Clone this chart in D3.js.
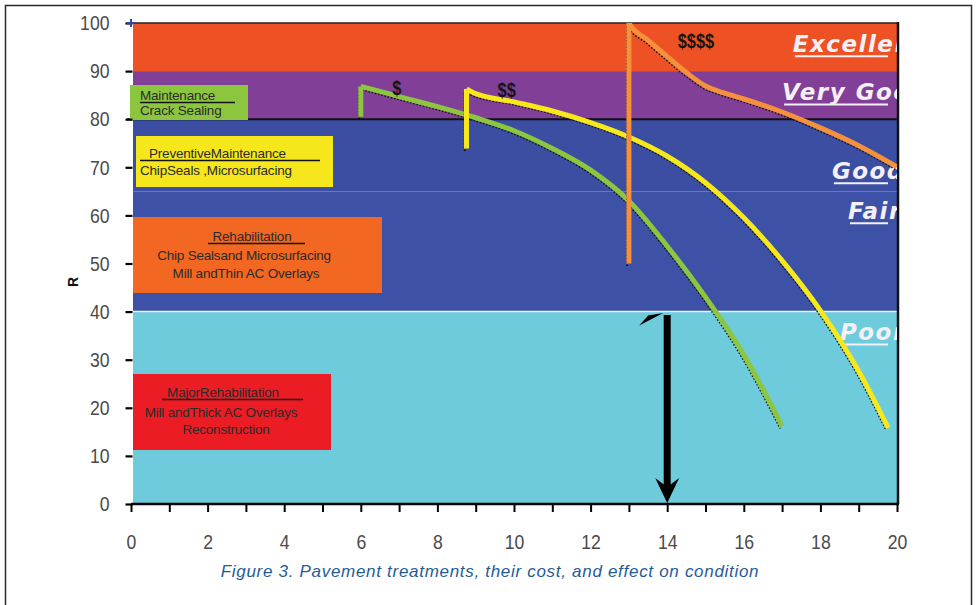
<!DOCTYPE html>
<html>
<head>
<meta charset="utf-8">
<script src="https://cdn.jsdelivr.net/npm/d3@7"></script>
<style>
  html, body { margin: 0; padding: 0; background: #fff; }
  svg { display: block; }
</style>
</head>
<body>
<svg id="chart" width="977" height="605"></svg>
<script>
// ---- data -------------------------------------------------------------
const xTicks = d3.range(0, 21);                 // one tick per year
const xTickLabels = ["0","2","4","6","8","10","12","14","16","18","20"];
const yTicks = [0, 10, 20, 30, 40, 50, 60, 70, 80, 90, 100];

// condition bands (PCI ranges)
const bandNames = ["Excellent", "Very Good", "Good", "Fair", "Poor"];
const bandLow   = [90, 80, 65, 40, 0];
const bandHigh  = [100, 90, 80, 65, 40];

// condition curves after each treatment: [year, PCI]
const greenJump  = [6.0, 80.5];
const greenCurve = [[6.0, 86.8], [6.15, 86.5], [7.0, 84.7], [8.0, 82.6], [9.0, 80.3],
                    [10.0, 77.6], [11.0, 73.9], [12.0, 69.4], [13.0, 63.0], [14.0, 53.6],
                    [15.0, 43.0], [16.0, 31.0], [17.0, 16.2]];

const yellowJump  = [8.76, 73.9];
const yellowCurve = [[8.76, 86.3], [8.94, 85.5], [10.0, 83.6], [11.0, 81.7], [12.0, 79.3],
                     [13.0, 76.3], [14.0, 72.3], [15.0, 66.8], [16.0, 59.5], [17.0, 50.6],
                     [18.0, 40.2], [19.0, 27.6], [19.77, 15.8]];

const orangeJump  = [13.0, 50.0];
const orangeCurve = [[13.0, 100], [13.03, 99.6], [13.5, 96.4], [14.0, 93.0], [14.5, 89.7],
                     [15.0, 86.9], [15.5, 85.4], [16.0, 84.2], [17.0, 81.5], [18.0, 78.2],
                     [19.0, 74.5], [20.0, 70.1]];

// cost markers
const costLabels = ["$", "$$", "$$$$"];
const costYears  = [6.94, 9.81, 14.75];
const costPCI    = [85.0, 84.6, 94.7];

// treatment boxes
const treatTitles = ["Maintenance", "PreventiveMaintenance", "Rehabilitation", "MajorRehabilitation"];
const treatLines  = [["Crack Sealing"],
                     ["ChipSeals ,Microsurfacing"],
                     ["Chip Sealsand Microsurfacing", "Mill andThin AC Overlays"],
                     ["Mill andThick AC Overlays", "Reconstruction"]];

// threshold arrow
const arrowYear = 14, arrowFrom = 39.3, arrowTo = 0;

const caption = "Figure 3. Pavement treatments, their cost, and effect on condition";

// ---- layout -----------------------------------------------------------
const svg = d3.select("#chart");
const x = d3.scaleLinear().domain([0, 20]).range([131, 897]);
const y = d3.scaleLinear().domain([0, 100]).range([504, 23]);
const left = x(0) + 2, right = x(20) + 1;

const bandColor = {
  "Excellent": "#ee5124", "Very Good": "#813f97", "Good": "#3b4ea2",
  "Fair": "#3d52a6", "Poor": "#6dcbdc"
};
const arial = "'Liberation Sans',Arial,Helvetica,sans-serif";

// squeeze text horizontally around its anchor (narrow typeface look)
function condense(sel, k) {
  sel.each(function () {
    const t = d3.select(this);
    const x0 = +t.attr("x") || 0;
    t.attr("x", 0).attr("transform", `translate(${x0},0) scale(${k},1)`);
  });
}

// outer frame
svg.append("rect").attr("x", 5.5).attr("y", 5.5).attr("width", 966).attr("height", 640)
  .attr("fill", "none").attr("stroke", "#2a2a2a").attr("stroke-width", 1.5);

svg.append("defs").append("clipPath").attr("id", "plotClip")
  .append("rect").attr("x", left).attr("y", y(100)).attr("width", right - left - 1)
  .attr("height", y(0) - y(100));

// condition bands
svg.append("g").selectAll("rect").data(bandNames).join("rect")
  .attr("x", left).attr("width", right - left)
  .attr("y", (d, i) => y(bandHigh[i]))
  .attr("height", (d, i) => y(bandLow[i]) - y(bandHigh[i]))
  .attr("fill", d => bandColor[d]);

// band boundary lines
svg.append("line").attr("x1", left).attr("x2", right).attr("y1", y(40)).attr("y2", y(40))
  .attr("stroke", "#e6f4f8").attr("stroke-width", 1.5);
svg.append("line").attr("x1", x(0) - 4).attr("x2", right).attr("y1", y(80)).attr("y2", y(80))
  .attr("stroke", "#111").attr("stroke-width", 2);
svg.append("line").attr("x1", left).attr("x2", right).attr("y1", y(100)).attr("y2", y(100))
  .attr("stroke", "#222").attr("stroke-width", 1.5);
svg.append("line").attr("x1", right).attr("x2", right).attr("y1", y(100) - 1).attr("y2", y(0))
  .attr("stroke", "#111").attr("stroke-width", 2.5);

// band names on the right, cut off by the plot edge
const bandLabelYear = [17.28, 17.0, 18.3, 18.72, 18.51];
const bandLabelPCI  = [94.0, 84.0, 67.6, 59.3, 34.1];
const lab = svg.append("g").attr("clip-path", "url(#plotClip)");
bandNames.forEach((name, i) => {
  const tx = x(bandLabelYear[i]), ty = y(bandLabelPCI[i]);
  lab.append("text").attr("x", tx).attr("y", ty).text(name)
    .attr("fill", "#f4f0f6").attr("font-family", "'DejaVu Sans',Verdana,sans-serif")
    .attr("font-style", "italic").attr("font-weight", "bold")
    .attr("font-size", 23).attr("letter-spacing", 1.5);
  lab.append("line").attr("x1", tx + 2).attr("x2", 888).attr("y1", ty + 4.5).attr("y2", ty + 4.5)
    .attr("stroke", "#f4f0f6").attr("stroke-width", 2);
});

// treatment boxes
const boxes = [
  {x: 130, y: 85,  w: 118, h: 35, fill: "#8cc63f", align: "start", tx: 140, base: [100, 115], ul: [140, 235]},
  {x: 136, y: 136, w: 197, h: 51, fill: "#f5e71c", align: "start", tx: 149, base: [158, 175], ul: [140, 320], lx: 140},
  {x: 133, y: 217, w: 249, h: 76, fill: "#f26722", align: "middle", base: [241, 260, 278], ul: [208, 305], cx: [252, 244, 246]},
  {x: 133, y: 374, w: 198, h: 76, fill: "#ec1c24", align: "middle", base: [397, 417, 434], ul: [162, 303], cx: [223, 221, 226]}
];
boxes.forEach((b, i) => {
  const g = svg.append("g");
  g.append("rect").attr("x", b.x).attr("y", b.y).attr("width", b.w).attr("height", b.h).attr("fill", b.fill);
  const rows = [treatTitles[i]].concat(treatLines[i]);
  rows.forEach((t, k) => {
    const px = b.align === "start" ? (k === 0 ? b.tx : (b.lx || b.tx)) : b.cx[k];
    g.append("text").attr("x", px).attr("y", b.base[k]).text(t)
      .attr("text-anchor", b.align).attr("fill", "#2b2b2b")
      .attr("font-family", arial).attr("font-size", 13.5).attr("letter-spacing", -0.2);
  });
  g.append("line").attr("x1", b.ul[0]).attr("x2", b.ul[1])
    .attr("y1", b.base[0] + 2.5).attr("y2", b.base[0] + 2.5)
    .attr("stroke", "#111").attr("stroke-width", 1.5);
});

// condition curves
const decay = d3.line().x(d => x(d[0])).y(d => y(d[1])).curve(d3.curveMonotoneX);
const straight = d3.line().x(d => x(d[0])).y(d => y(d[1]));
function series(jump, curve, color) {
  const g = svg.append("g").attr("clip-path", "url(#plotClip)");
  const paths = [straight([jump, curve[0]]), decay(curve)];
  // speckled dark edge
  paths.forEach(dd => {
    g.append("path").attr("d", dd).attr("fill", "none").attr("stroke", "#111")
      .attr("stroke-width", 2).attr("stroke-dasharray", "1.5 1.8")
      .attr("transform", "translate(-1.8,2.4)");
  });
  paths.forEach(dd => {
    g.append("path").attr("d", dd).attr("fill", "none").attr("stroke", color)
      .attr("stroke-width", 5).attr("stroke-linejoin", "round").attr("stroke-linecap", "butt");
  });
}
series(greenJump, greenCurve, "#8cc63f");
series(yellowJump, yellowCurve, "#f6e81b");
series(orangeJump, orangeCurve, "#f5913c");

// cost markers
svg.append("g").selectAll("text").data(costLabels).join("text")
  .attr("x", (d, i) => x(costYears[i])).attr("y", (d, i) => y(costPCI[i]))
  .attr("text-anchor", "middle").text(d => d)
  .attr("fill", "#151515").attr("font-family", arial).attr("font-weight", "bold")
  .attr("font-size", 20)
  .call(condense, 0.82);

// threshold arrow down to the axis
const ax = x(arrowYear);
svg.append("line").attr("x1", ax).attr("x2", ax).attr("y1", y(arrowFrom)).attr("y2", y(arrowTo) - 14)
  .attr("stroke", "#000").attr("stroke-width", 7);
svg.append("path")
  .attr("d", `M${ax},${y(arrowTo) - 1} L${ax - 12},${y(arrowTo) - 26} L${ax},${y(arrowTo) - 17} L${ax + 12},${y(arrowTo) - 26} Z`)
  .attr("fill", "#000");
svg.append("path")
  .attr("d", `M${ax - 4},${y(40) + 1.5} L${ax - 28},${y(40) + 14} L${ax - 19},${y(40) + 4} Z`)
  .attr("fill", "#000");

// axes
const xAxis = d3.axisBottom(x).tickValues(xTicks).tickSize(8).tickSizeOuter(0).tickPadding(22)
  .tickFormat(d => (d % 2 === 0 ? xTickLabels[d / 2] : ""));
const gx = svg.append("g").attr("transform", `translate(0,${y(0)})`).call(xAxis);
gx.select(".domain").attr("stroke", "#000").attr("stroke-width", 2.5)
  .attr("d", `M${x(0)},0H${right + 1}`);
gx.selectAll(".tick line").attr("stroke", "#000").attr("stroke-width", 2);
gx.selectAll(".tick text").attr("fill", "#4a4a4a").attr("font-family", arial).attr("font-size", 21)
  .call(condense, 0.84);

const yAxis = d3.axisLeft(y).tickValues(yTicks).tickSize(7).tickSizeOuter(0).tickPadding(16);
const gy = svg.append("g").attr("transform", `translate(${x(0) + 1.5},0)`).call(yAxis);
gy.select(".domain").remove();
gy.selectAll(".tick line").attr("stroke", "#000").attr("stroke-width", 2.2);
gy.selectAll(".tick text").attr("fill", "#4a4a4a").attr("font-family", arial).attr("font-size", 21)
  .call(condense, 0.84);

// corner marker and axis glyph
svg.append("path").attr("d", `M${x(0) - 4},${y(100)}h8M${x(0)},${y(100) - 4}v8`)
  .attr("stroke", "#3344aa").attr("stroke-width", 2);
svg.append("text").attr("transform", "translate(78,282) rotate(-90)").text("R")
  .attr("text-anchor", "middle").attr("font-family", arial).attr("font-weight", "bold")
  .attr("font-size", 14).attr("fill", "#111");

// caption
svg.append("text").attr("x", 490).attr("y", 577).attr("text-anchor", "middle").text(caption)
  .attr("fill", "#1f5b98").attr("font-family", arial).attr("font-style", "italic")
  .attr("font-size", 17).attr("letter-spacing", 0.7);
</script>
</body>
</html>
